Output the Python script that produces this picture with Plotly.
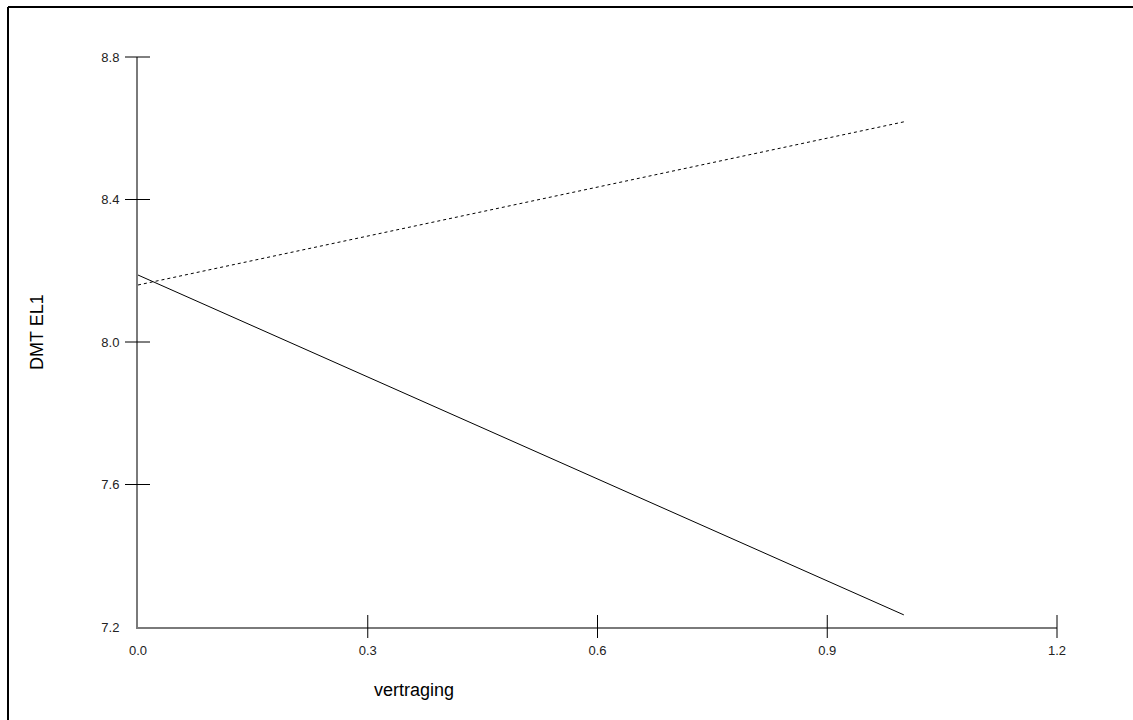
import plotly.graph_objects as go

# Chart data
x_vals = [0.0, 1.0]
solid_y = [8.188, 7.234]
dashed_y = [8.160, 8.618]

x_ticks = [0.0, 0.3, 0.6, 0.9, 1.2]
x_tick_text = ["0.0", "0.3", "0.6", "0.9", "1.2"]
y_ticks = [7.2, 7.6, 8.0, 8.4, 8.8]
y_tick_text = ["7.2", "7.6", "8.0", "8.4", "8.8"]

X_RANGE = [0.0, 1.2]
Y_RANGE = [7.2, 8.8]

W, H = 1133, 720
ML, MR, MT, MB = 138, 76, 57, 93
PW, PH = W - ML - MR, H - MT - MB

fig = go.Figure()
fig.add_trace(go.Scatter(x=x_vals, y=solid_y, mode="lines",
                         line=dict(color="black", width=1), showlegend=False))
fig.add_trace(go.Scatter(x=x_vals, y=dashed_y, mode="lines",
                         line=dict(color="black", width=1, dash="3px,3px"), showlegend=False))


def px_x(p):
    return (p - ML) / PW


def px_y(p):
    return (H - MB - p) / PH


def frac(v, rng):
    return (v - rng[0]) / (rng[1] - rng[0])


shapes = []
# tick marks crossing the axes (corner values have none)
for v in x_ticks[1:]:
    shapes.append(dict(type="line", xref="paper", yref="paper",
                       x0=frac(v, X_RANGE), x1=frac(v, X_RANGE),
                       y0=-11 / PH, y1=12 / PH, line=dict(color="black", width=1)))
for v in y_ticks[1:]:
    shapes.append(dict(type="line", xref="paper", yref="paper",
                       x0=-13 / PW, x1=12 / PW,
                       y0=frac(v, Y_RANGE), y1=frac(v, Y_RANGE),
                       line=dict(color="black", width=1)))

# frame along the top and left edges of the page
shapes.append(dict(type="line", xref="paper", yref="paper",
                   x0=px_x(8), x1=px_x(W + 5), y0=px_y(7), y1=px_y(7),
                   line=dict(color="black", width=2)))
shapes.append(dict(type="line", xref="paper", yref="paper",
                   x0=px_x(8), x1=px_x(8), y0=px_y(7), y1=px_y(H + 5),
                   line=dict(color="black", width=2)))

fig.update_layout(
    width=W, height=H,
    margin=dict(l=ML, r=MR, t=MT, b=MB),
    paper_bgcolor="white", plot_bgcolor="white",
    font=dict(family="Liberation Sans, Arial, sans-serif", color="#222"),
    shapes=shapes,
    xaxis=dict(range=X_RANGE, tickvals=x_ticks, ticktext=x_tick_text,
               showgrid=False, zeroline=False, showline=True, linecolor="#7a7a7a",
               linewidth=2, ticks="", ticklabelstandoff=10, tickfont=dict(size=13)),
    yaxis=dict(range=Y_RANGE, tickvals=y_ticks, ticktext=y_tick_text,
               showgrid=False, zeroline=False, showline=True, linecolor="#7a7a7a",
               linewidth=2, ticks="", ticklabelstandoff=14, tickfont=dict(size=13)),
    annotations=[
        dict(text="DMT EL1", xref="paper", yref="paper", x=0, y=0.5,
             xshift=-101, yshift=10, textangle=-90, showarrow=False,
             font=dict(size=18, color="black"), xanchor="center", yanchor="middle"),
        dict(text="vertraging", xref="paper", yref="paper", x=px_x(414), y=px_y(690),
             showarrow=False, font=dict(size=18, color="black"),
             xanchor="center", yanchor="middle"),
    ],
)

fig.write_html("out.html")
